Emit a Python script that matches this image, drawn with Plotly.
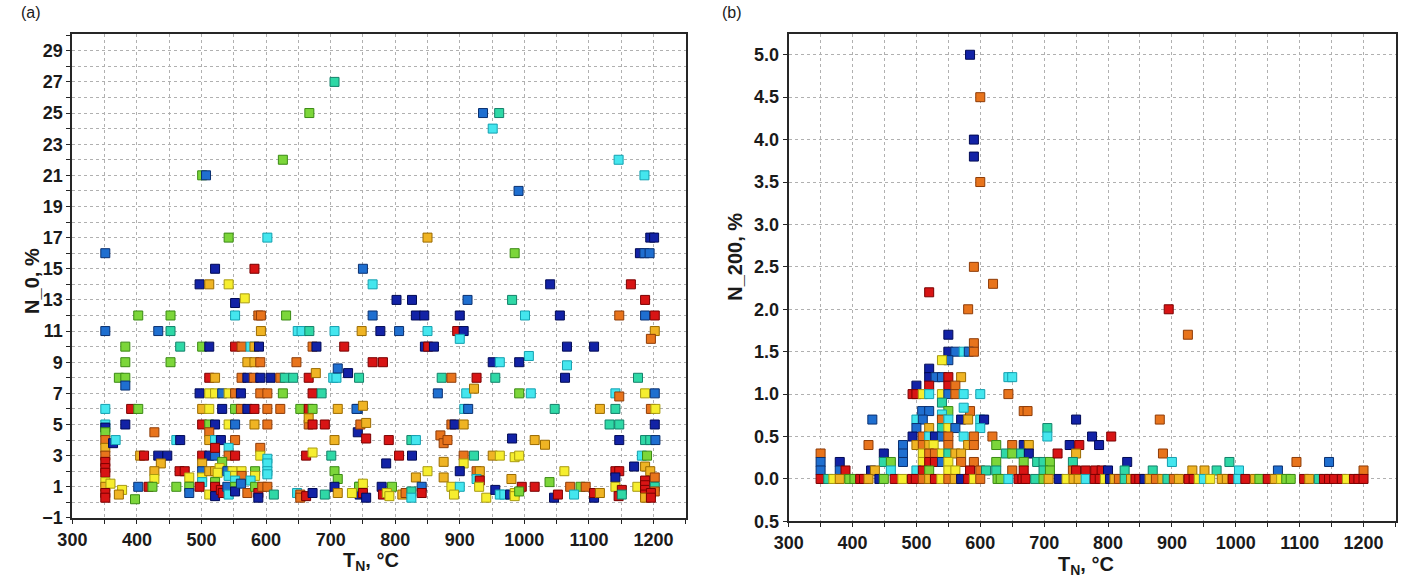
import plotly.graph_objects as go

# ---------------- Panel (a): N_0 vs T_N ----------------
a_T = [706, 667, 626, 501, 507, 542, 602, 351, 521, 582, 497, 512, 542,
       936, 961, 951, 1146, 1186, 991, 850, 1195, 1201, 985, 1179, 1186, 1194, 750, 765, 1040, 1165,
       552, 567, 402, 452, 552, 588, 592, 631, 351, 433, 452, 592, 649, 655, 667, 706, 748,
       382, 467, 501, 512, 552, 562, 576, 582, 589, 672, 678, 721,
       382, 452, 571, 582, 591, 647,
       372, 382, 382, 512, 521, 562, 571, 581, 591, 607, 622, 629, 642, 666, 677, 704, 709, 711, 727, 744,
       497, 512, 521, 532, 542, 552, 561, 591, 602, 626, 672, 686,
       351, 391, 402, 501, 512, 532, 552, 561, 571, 582, 602, 622, 653, 666, 672, 711, 742,
       351, 351, 351, 382, 501, 512, 521, 542, 552, 582, 602, 666, 666, 672, 691, 742,
       351, 351, 351, 363, 367, 427, 461, 467, 512, 512, 521, 530, 552, 591, 706,
       405, 411, 433, 447, 501, 512, 521, 521, 542, 542, 552, 591, 602, 602, 602, 662, 672, 701,
       351, 351, 351, 437, 427, 427, 466, 474, 481, 501, 501, 501, 501, 512, 521, 532, 528, 525,
       540, 548, 562, 542, 552, 562, 583, 583, 576, 602, 706, 711,
       351, 351, 359, 351, 351, 377, 372, 397, 402, 418, 424, 461, 481, 481, 497, 512, 521, 521, 521,
       530, 533, 540, 542, 552, 552, 552, 561, 571, 583, 588, 588, 594, 602, 612, 648, 653, 653, 662,
       672, 691, 706, 711, 735, 745, 745,
       802, 826, 912, 981, 1187, 765, 832, 845, 900, 1001, 1055, 1147, 1187, 1202,
       777, 806, 850, 896, 906, 900, 1202, 1196, 846, 851, 860, 1066, 1108, 1007,
       765, 781, 951, 962, 992, 1066, 872, 887, 926, 955, 1063, 1176,
       866, 910, 922, 992, 1010, 1141, 1147, 1187, 1202,
       740, 750, 907, 913, 1047, 1117, 1141, 1196, 1203,
       746, 755, 887, 892, 906, 1132, 1147, 1202,
       755, 790, 825, 832, 870, 875, 881, 981, 1016, 1032, 1147, 1187, 1195, 1203,
       806, 826, 786, 906, 922, 951, 962, 985, 992, 906, 875, 1182, 1190,
       850, 900, 926, 931, 1062, 1141, 1147, 1141, 1170, 1187, 1195, 1202,
       832, 875, 926, 931, 980,
       744, 750, 779, 795, 841, 841, 887, 900, 930, 996, 1016, 1039, 1071, 1087, 1095, 1141, 1151, 1175,
       1187, 1187, 1187, 1187, 1202, 1202, 1196,
       733, 750, 755, 781, 787, 791, 811, 816, 825, 825, 891, 941, 955, 962, 969, 978, 985, 985, 992,
       1046, 1052, 1077, 1108, 1108, 1117, 1146, 1151, 1187, 1196]

a_N = [27, 25, 22, 21, 21, 17, 17, 16, 15, 15, 14, 14, 14,
       25, 25, 24, 22, 21, 20, 17, 17, 17, 16, 16, 16, 16, 15, 14, 14, 14,
       12.8, 13.1, 12, 12, 12, 12, 12, 12, 11, 11, 11, 11, 11, 11, 11, 11, 11,
       10, 10, 10, 10, 10, 10, 10, 10, 10, 10, 10, 10,
       9, 9, 9, 9, 9, 9,
       8, 8, 7.5, 8, 8, 8, 8, 8, 8, 8, 8, 8, 8, 8, 8.3, 8, 8, 8.6, 8.3, 8,
       7, 7, 7, 7, 7, 7, 7, 7, 7, 7, 7, 7,
       6, 6, 6, 6, 6, 6, 6, 6, 6, 6, 6, 6, 6, 6, 6, 6, 6,
       5, 4.8, 4.5, 5, 5, 5, 5, 5, 5, 5, 5, 5, 5.4, 5, 5, 4.5,
       4, 3.5, 3, 3.8, 4, 4.5, 4, 4, 4.5, 4, 4, 4, 4, 3.5, 4,
       3, 3, 3, 3, 3, 3, 3, 3.5, 3.5, 3, 3, 3, 2.8, 2.5, 2, 3, 3.2, 3,
       2.6, 2.2, 1.9, 2.5, 2, 1.5, 2, 2, 1.6, 2.5, 2, 1.6, 1.3, 2, 2, 2.6, 2.2, 1.9,
       2, 2, 2, 1.7, 1.7, 1.7, 2, 1.7, 1.4, 1.8, 2, 1.5,
       1.3, 1, 1.2, 0.6, 0.3, 0.8, 0.5, 0.2, 1, 1, 1, 1, 1, 0.6, 1, 0.5, 1.3, 1, 0.4,
       0.8, 0.6, 1, 0.5, 1.4, 1, 0.7, 1.2, 0.6, 1, 0.6, 0.3, 1, 1, 0.5, 0.6, 0.5, 0.3, 0.4,
       0.6, 0.5, 1, 0.6, 0.6, 0.5, 1,
       13, 13, 13, 13, 13, 12, 12, 12, 12, 12, 12, 12, 12, 12,
       11, 11, 11, 11, 11, 10.5, 11, 10.5, 10, 10, 10, 10, 10, 9.4,
       9, 9, 9, 9, 9, 8.8, 8, 8, 8, 8, 8, 8,
       7, 7, 7.3, 7, 7, 7, 6.8, 7, 7,
       6, 6.2, 6, 6, 6, 6, 6, 6, 6,
       5, 5.1, 5, 5, 5, 5, 5, 5,
       4.1, 4, 4, 4, 4.3, 3.8, 4, 4.1, 4, 3.7, 4, 4, 4, 4,
       3, 3, 2.5, 3, 3, 3, 3, 2.9, 3, 2.5, 2.6, 3, 3,
       2, 2, 2, 2, 2, 2, 2, 1.6, 2.3, 2.3, 2, 1.6,
       1.6, 1.6, 1.5, 1.4, 1.5,
       1, 1.2, 1, 1, 1, 0.6, 1, 1, 1, 1, 1, 1.3, 1, 1, 1, 1, 0.8, 1,
       1.4, 1.1, 0.8, 0.5, 1, 0.7, 0.6,
       0.6, 0.6, 0.3, 0.5, 0.6, 0.4, 0.5, 0.6, 0.7, 0.3, 0.5, 0.3, 0.8, 0.5, 0.5, 0.5, 0.6, 0.4, 0.7,
       0.3, 0.5, 0.5, 0.3, 0.6, 0.6, 0.4, 0.5, 0.3, 0.3]

a_C = ["tl", "gr", "gr", "gr", "bl", "gr", "cy", "bl", "nv", "rd", "nv", "go", "ye",
       "bl", "tl", "cy", "cy", "cy", "bl", "go", "nv", "nv", "gr", "nv", "bl", "bl", "bl", "cy", "nv", "rd",
       "nv", "ye", "gr", "gr", "cy", "or", "or", "gr", "bl", "bl", "tl", "go", "cy", "cy", "tl", "cy", "go",
       "gr", "tl", "gr", "nv", "rd", "or", "cy", "go", "nv", "or", "nv", "rd",
       "gr", "gr", "go", "go", "or", "or",
       "gr", "gr", "bl", "rd", "go", "or", "nv", "or", "nv", "nv", "or", "tl", "tl", "rd", "go", "cy", "cy", "bl", "nv", "tl",
       "nv", "ye", "ye", "bl", "ye", "or", "nv", "or", "or", "gr", "rd", "tl",
       "cy", "rd", "gr", "go", "ye", "nv", "gr", "or", "nv", "rd", "or", "or", "gr", "rd", "gr", "go", "bl",
       "cy", "nv", "gr", "nv", "rd", "gr", "nv", "ye", "bl", "go", "or", "or", "go", "rd", "rd", "nv",
       "or", "go", "or", "nv", "cy", "or", "cy", "nv", "or", "go", "cy", "nv", "or", "or", "go",
       "go", "rd", "nv", "nv", "rd", "nv", "bl", "rd", "cy", "or", "rd", "ye", "cy", "cy", "cy", "rd", "ye", "tl",
       "rd", "rd", "rd", "go", "go", "ye", "rd", "rd", "ye", "go", "bl", "ye", "cy", "go", "go", "gr", "ye", "ye",
       "bl", "ye", "ye", "cy", "ye", "or", "gr", "ye", "cy", "cy", "gr", "gr",
       "ye", "go", "ye", "rd", "rd", "ye", "go", "gr", "bl", "rd", "gr", "gr", "gr", "bl", "rd", "ye", "gr", "rd", "nv",
       "rd", "rd", "bl", "cy", "cy", "gr", "nv", "bl", "or", "gr", "rd", "nv", "or", "or", "tl", "cy", "or", "or", "rd",
       "nv", "tl", "nv", "go", "ye", "nv", "tl",
       "nv", "nv", "bl", "tl", "rd", "bl", "nv", "nv", "nv", "cy", "nv", "or", "bl", "rd",
       "nv", "bl", "cy", "rd", "nv", "cy", "go", "or", "nv", "rd", "nv", "nv", "nv", "cy",
       "rd", "rd", "nv", "cy", "nv", "cy", "tl", "or", "rd", "tl", "nv", "tl",
       "bl", "cy", "go", "gr", "cy", "cy", "or", "ye", "bl",
       "bl", "go", "cy", "bl", "tl", "go", "tl", "or", "ye",
       "or", "go", "or", "nv", "go", "tl", "tl", "nv",
       "rd", "rd", "tl", "cy", "or", "or", "or", "nv", "go", "go", "nv", "tl", "tl", "bl",
       "rd", "nv", "nv", "or", "tl", "go", "ye", "ye", "ye", "ye", "go", "cy", "gr",
       "ye", "nv", "or", "go", "ye", "rd", "rd", "nv", "nv", "go", "go", "or",
       "go", "go", "cy", "rd", "go",
       "gr", "ye", "nv", "gr", "bl", "rd", "ye", "cy", "ye", "rd", "rd", "gr", "or", "gr", "or", "ye", "rd", "ye",
       "rd", "rd", "rd", "rd", "tl", "or", "rd",
       "ye", "rd", "nv", "rd", "ye", "ye", "go", "or", "tl", "cy", "ye", "ye", "nv", "cy", "cy", "nv", "ye", "ye", "gr",
       "nv", "rd", "cy", "nv", "rd", "go", "rd", "tl", "go", "rd"]

# ---------------- Panel (b): N_200 vs T_N ----------------
b_T = [584, 600, 590, 590, 600, 590, 620, 520, 581, 590,
       550, 550, 561, 574, 582, 590, 550, 540, 520,
       520, 530, 540, 550, 570, 500, 520, 550, 561,
       494, 500, 510, 520, 540, 550, 561, 574, 600, 644, 644, 650,
       540, 509, 520, 550, 584, 668, 674, 574, 540,
       500, 510, 540, 550, 570, 581, 600, 606, 431,
       500, 520, 540, 550, 561, 600,
       494, 510, 520, 529, 540, 550, 574, 590, 619,
       425, 479, 500, 510, 520, 527, 550, 581, 590, 625, 650, 668, 676,
       350, 449, 479, 510, 520, 529, 540, 550, 561, 570, 640, 650, 664, 676,
       350, 380, 449, 460, 479, 510, 520, 529, 540, 550, 570, 590, 625, 668, 689, 699, 709,
       350, 380, 389, 429, 435, 460, 500, 510, 520, 550, 561, 584, 600, 609, 625, 650, 668, 699, 709,
       350, 362, 370, 380, 395, 403, 412, 418, 425, 442, 449, 466, 478, 493, 499, 510, 520, 529,
       539, 550, 560, 570, 581, 590, 600, 627, 632, 644, 660, 666, 671, 686, 699, 707,
       895, 925, 750, 705, 705, 881, 775, 805, 740, 755, 786, 721, 750, 886,
       745, 830, 900, 990, 1095, 1146,
       745, 750, 765, 780, 790, 800, 826, 870, 932, 951, 970, 1005, 1066, 1200,
       723, 735, 746, 754, 765, 779, 787, 795, 803, 810, 817, 826, 836, 843, 849, 857, 865, 875,
       885, 893, 903, 911, 926, 934, 942, 950, 960, 978, 986, 995, 1004, 1015, 1030, 1037, 1050,
       1061, 1071, 1079, 1086, 1107, 1115, 1130, 1138, 1146, 1154, 1166, 1174, 1185, 1192, 1200]

b_N = [5.0, 4.5, 4.0, 3.8, 3.5, 2.5, 2.3, 2.2, 2.0, 1.6,
       1.7, 1.5, 1.5, 1.5, 1.5, 1.5, 1.4, 1.4, 1.3,
       1.2, 1.2, 1.2, 1.2, 1.2, 1.1, 1.1, 1.1, 1.1,
       1.0, 1.0, 1.0, 1.0, 1.0, 1.0, 1.0, 1.0, 1.0, 1.0, 1.2, 1.2,
       0.9, 0.8, 0.8, 0.8, 0.8, 0.8, 0.8, 0.84, 0.76,
       0.7, 0.7, 0.7, 0.7, 0.7, 0.7, 0.7, 0.7, 0.7,
       0.6, 0.6, 0.6, 0.6, 0.6, 0.6,
       0.5, 0.5, 0.5, 0.5, 0.5, 0.5, 0.5, 0.5, 0.5,
       0.4, 0.4, 0.4, 0.4, 0.4, 0.4, 0.4, 0.4, 0.4, 0.4, 0.4, 0.4, 0.4,
       0.3, 0.3, 0.3, 0.3, 0.3, 0.3, 0.3, 0.3, 0.3, 0.3, 0.3, 0.3, 0.3, 0.3,
       0.2, 0.2, 0.2, 0.2, 0.2, 0.2, 0.2, 0.2, 0.2, 0.2, 0.2, 0.2, 0.2, 0.2, 0.2, 0.2, 0.2,
       0.1, 0.1, 0.1, 0.1, 0.1, 0.1, 0.1, 0.1, 0.1, 0.1, 0.1, 0.1, 0.1, 0.1, 0.1, 0.1, 0.1, 0.1, 0.1,
       0.0, 0.0, 0.0, 0.0, 0.0, 0.0, 0.0, 0.0, 0.0, 0.0, 0.0, 0.0, 0.0, 0.0, 0.0, 0.0, 0.0, 0.0,
       0.0, 0.0, 0.0, 0.0, 0.0, 0.0, 0.0, 0.0, 0.0, 0.0, 0.0, 0.0, 0.0, 0.0, 0.0, 0.0,
       2.0, 1.7, 0.7, 0.6, 0.5, 0.7, 0.5, 0.5, 0.4, 0.4, 0.4, 0.3, 0.3, 0.3,
       0.2, 0.2, 0.2, 0.2, 0.2, 0.2,
       0.1, 0.1, 0.1, 0.1, 0.1, 0.1, 0.1, 0.1, 0.1, 0.1, 0.1, 0.1, 0.1, 0.1,
       0.0, 0.0, 0.0, 0.0, 0.0, 0.0, 0.0, 0.0, 0.0, 0.0, 0.0, 0.0, 0.0, 0.0, 0.0, 0.0, 0.0, 0.0,
       0.0, 0.0, 0.0, 0.0, 0.0, 0.0, 0.0, 0.0, 0.0, 0.0, 0.0, 0.0, 0.0, 0.0, 0.0, 0.0, 0.0,
       0.0, 0.0, 0.0, 0.0, 0.0, 0.0, 0.0, 0.0, 0.0, 0.0, 0.0, 0.0, 0.0, 0.0, 0.0]

b_C = ["nv", "or", "nv", "nv", "or", "or", "or", "rd", "or", "or",
       "nv", "nv", "bl", "cy", "bl", "or", "bl", "ye", "nv",
       "nv", "bl", "bl", "rd", "go", "nv", "rd", "rd", "or",
       "rd", "rd", "ye", "cy", "ye", "bl", "or", "cy", "cy", "or", "cy", "cy",
       "tl", "bl", "bl", "gr", "or", "or", "or", "cy", "cy",
       "cy", "bl", "or", "cy", "nv", "go", "cy", "nv", "bl",
       "bl", "go", "tl", "ye", "bl", "cy",
       "nv", "or", "cy", "nv", "bl", "or", "cy", "or", "or",
       "or", "bl", "go", "or", "go", "ye", "or", "go", "or", "gr", "or", "nv", "go",
       "or", "nv", "bl", "ye", "or", "or", "ye", "tl", "go", "go", "tl", "gr", "tl", "nv",
       "bl", "nv", "tl", "gr", "bl", "ye", "rd", "rd", "bl", "ye", "or", "or", "gr", "gr", "tl", "tl", "gr",
       "bl", "bl", "rd", "nv", "go", "cy", "cy", "rd", "gr", "ye", "ye", "rd", "or", "tl", "tl", "or", "rd", "tl", "gr",
       "rd", "tl", "ye", "go", "gr", "gr", "rd", "rd", "go", "nv", "gr", "rd", "ye", "rd", "rd", "or", "go", "rd",
       "ye", "or", "go", "nv", "rd", "ye", "or", "gr", "gr", "cy", "rd", "rd", "rd", "tl", "gr", "go",
       "rd", "or", "nv", "tl", "cy", "or", "nv", "rd", "nv", "rd", "nv", "rd", "go", "or",
       "tl", "nv", "cy", "tl", "or", "bl",
       "or", "rd", "rd", "rd", "rd", "nv", "tl", "tl", "go", "go", "tl", "cy", "bl", "or",
       "nv", "ye", "go", "go", "cy", "rd", "rd", "ye", "nv", "go", "or", "tl", "go", "rd", "rd", "nv", "go", "or",
       "go", "tl", "or", "go", "rd", "rd", "ye", "cy", "ye", "go", "go", "rd", "cy", "rd", "go", "gr", "rd",
       "go", "ye", "gr", "gr", "rd", "go", "tl", "rd", "rd", "rd", "rd", "ye", "rd", "rd", "rd"]

# colour classes (fill, border) along a jet-like scale
PALETTE = {
    "nv": ("#1222a6", "#000a55"),
    "bl": ("#1f6fd0", "#0a3070"),
    "cy": ("#44e6ee", "#14a0b0"),
    "tl": ("#2fd8a6", "#12806a"),
    "gr": ("#7cd63a", "#3a8a14"),
    "ye": ("#f6ee2e", "#a89a10"),
    "go": ("#efb424", "#9a6a00"),
    "or": ("#e8741c", "#8e3c08"),
    "rd": ("#d81414", "#7a0000"),
}

FONT = "Liberation Sans, Arial, sans-serif"
GRID = "#b0b0b0"


def scatter(xs, ys, cs, xa, ya):
    return go.Scatter(
        x=xs, y=ys, mode="markers", xaxis=xa, yaxis=ya, showlegend=False,
        marker=dict(symbol="square", size=9,
                    color=[PALETTE[c][0] for c in cs],
                    line=dict(width=1, color=[PALETTE[c][1] for c in cs])),
        hoverinfo="x+y",
    )


fig = go.Figure()
fig.add_trace(scatter(a_T, a_N, a_C, "x", "y"))
fig.add_trace(scatter(b_T, b_N, b_C, "x2", "y2"))

W, H = 1406, 581


def px_x(p):
    return p / W


def px_y(p):
    return 1 - p / H


tickfont = dict(family=FONT, size=18, color="#1a1a1a", weight="bold")
axis_common = dict(showline=True, linecolor="#262626", linewidth=2, mirror=True,
                   ticks="outside", ticklen=4, tickcolor="#262626", tickwidth=1,
                   showgrid=True, gridcolor=GRID, griddash="dot", gridwidth=1,
                   zeroline=False, tickfont=tickfont)

x_tickvals = [300, 400, 500, 600, 700, 800, 900, 1000, 1100, 1200]

fig.update_layout(
    width=W, height=H,
    margin=dict(l=0, r=0, t=0, b=0),
    paper_bgcolor="white", plot_bgcolor="white",
    xaxis=dict(domain=[px_x(58), px_x(678)], range=[300, 1250], anchor="y",
               tickvals=x_tickvals,
               minor=dict(dtick=50, tick0=300, showgrid=True, gridcolor=GRID, griddash="dot",
                          ticks="outside", ticklen=4, tickcolor="#262626"),
               **axis_common),
    yaxis=dict(domain=[px_y(527), px_y(35)], range=[-1, 30.05], anchor="x",
               tick0=-1, dtick=2,
               minor=dict(dtick=1, tick0=-1, showgrid=True, gridcolor=GRID, griddash="dot",
                          ticks="outside", ticklen=4, tickcolor="#262626"),
               **axis_common),
    xaxis2=dict(domain=[px_x(782), px_x(1396)], range=[300, 1251], anchor="y2",
                tickvals=x_tickvals,
                minor=dict(dtick=50, tick0=300, showgrid=True, gridcolor=GRID, griddash="dot",
                           ticks="outside", ticklen=4, tickcolor="#262626"),
                **axis_common),
    yaxis2=dict(domain=[px_y(530.5), px_y(35)], range=[-0.5, 5.24], anchor="x2",
                tickvals=[-0.5, 0, 0.5, 1.0, 1.5, 2.0, 2.5, 3.0, 3.5, 4.0, 4.5, 5.0],
                ticktext=["0.5", "0.0", "0.5", "1.0", "1.5", "2.0", "2.5", "3.0", "3.5", "4.0", "4.5", "5.0"],
                **axis_common),
)

title_font = dict(family=FONT, size=20, color="#1a1a1a", weight="bold")
label_font = dict(family=FONT, size=16, color="#1a1a1a")

annotations = [
    dict(text="(a)", x=px_x(4), y=px_y(13), xanchor="left", yanchor="middle", font=label_font),
    dict(text="(b)", x=px_x(713), y=px_y(13), xanchor="left", yanchor="middle", font=label_font),
    dict(text="N_0, %", x=px_x(17), y=px_y(286), textangle=-90, xanchor="center", yanchor="middle",
         font=title_font),
    dict(text="N_200, %", x=px_x(727), y=px_y(261), textangle=-90, xanchor="center", yanchor="middle",
         font=title_font),
    dict(text="T<sub>N</sub>, °C", x=px_x(360), y=px_y(557), xanchor="center", yanchor="top",
         font=title_font),
    dict(text="T<sub>N</sub>, °C", x=px_x(1083), y=px_y(561), xanchor="center", yanchor="top",
         font=title_font),
]
for a in annotations:
    a.update(xref="paper", yref="paper", showarrow=False)
fig.update_layout(annotations=annotations)

fig.write_html("out.html")
